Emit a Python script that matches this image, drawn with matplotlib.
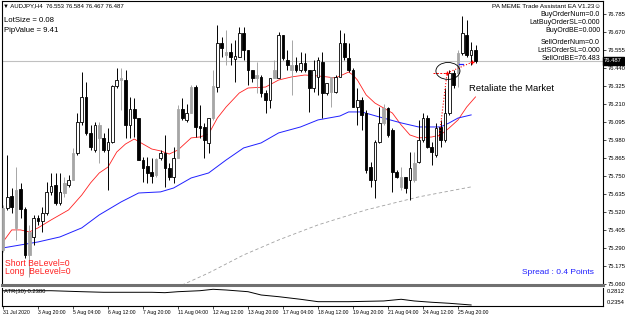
import matplotlib
matplotlib.use("Agg")
import matplotlib.pyplot as plt
import matplotlib.transforms as mtransforms
from matplotlib.patches import Rectangle, Ellipse

plt.rcParams['font.family'] = ['Liberation Sans', 'DejaVu Sans']

# ---- AUDJPY H4 candles, bar 0 = 31 Jul 2020 12:00 ----
opens = [75.277, 75.545, 75.622, 75.417, 75.667, 75.539, 75.245, 75.360, 75.481, 75.462,
         75.513, 75.647, 75.692, 75.577, 75.641, 75.692, 75.724, 75.896, 76.095, 76.254,
         76.024, 75.916, 75.992, 75.992, 75.916, 75.967, 76.324, 76.363, 76.363, 76.076,
         76.178, 76.120, 75.852, 75.814, 75.775, 75.756, 75.865, 75.896, 75.801, 75.743,
         75.865, 76.178, 76.108, 76.152, 76.318, 76.069, 76.063, 75.961, 76.120, 76.318,
         76.600, 76.523, 76.542, 76.497, 76.510, 76.663, 76.555, 76.427, 76.376, 76.382,
         76.280, 76.235, 76.376, 76.376, 76.651, 76.491, 76.427, 76.459, 76.427, 76.472,
         76.427, 76.312, 76.382, 76.478, 76.280, 76.286, 76.286, 76.382, 76.600, 76.504,
         76.427, 76.191, 76.235, 76.152, 75.807, 75.724, 75.967, 76.088, 76.184, 76.044,
         75.775, 75.679, 75.743, 75.724, 75.724, 75.839, 75.980, 76.120, 75.935, 75.884,
         76.063, 75.980, 76.152, 76.408, 76.408, 76.535, 76.651, 76.523, 76.555]
highs = [75.565, 75.884, 75.673, 75.807, 75.705, 75.552, 75.437, 75.501, 75.501, 75.552,
         75.711, 75.769, 75.769, 75.769, 75.743, 75.756, 75.928, 76.152, 76.414, 76.350,
         76.076, 76.095, 76.095, 76.024, 76.056, 76.331, 76.440, 76.440, 76.427, 76.254,
         76.248, 76.120, 75.871, 75.871, 75.865, 75.865, 75.916, 76.012, 75.833, 75.935,
         76.204, 76.248, 76.210, 76.331, 76.331, 76.204, 76.088, 76.120, 76.427, 76.715,
         76.638, 76.683, 76.600, 76.619, 76.702, 76.702, 76.555, 76.427, 76.478, 76.395,
         76.299, 76.376, 76.491, 76.670, 76.651, 76.555, 76.619, 76.510, 76.542, 76.535,
         76.427, 76.491, 76.510, 76.542, 76.344, 76.382, 76.395, 76.683, 76.663, 76.600,
         76.440, 76.312, 76.254, 76.172, 75.839, 75.980, 76.191, 76.210, 76.191, 76.056,
         75.788, 75.807, 75.743, 75.903, 75.903, 76.108, 76.152, 76.140, 75.967, 76.088,
         76.108, 76.312, 76.427, 76.427, 76.555, 76.772, 76.747, 76.606, 76.587]
lows = [75.264, 75.533, 75.513, 75.341, 75.481, 75.226, 75.104, 75.309, 75.437, 75.392,
        75.501, 75.628, 75.565, 75.565, 75.616, 75.679, 75.724, 75.884, 76.076, 76.012,
        75.916, 75.903, 75.833, 75.903, 75.660, 75.961, 76.312, 76.172, 75.992, 75.992,
        75.999, 75.852, 75.711, 75.705, 75.705, 75.743, 75.852, 75.679, 75.724, 75.705,
        75.865, 76.108, 76.095, 76.152, 75.999, 75.992, 75.865, 75.896, 76.108, 76.286,
        76.510, 76.459, 76.459, 76.350, 76.510, 76.491, 76.331, 76.350, 76.280, 76.254,
        76.152, 76.184, 76.376, 76.376, 76.491, 76.427, 76.267, 76.414, 76.414, 76.414,
        76.159, 76.286, 76.267, 76.120, 76.267, 76.191, 76.280, 76.382, 76.491, 76.414,
        76.191, 76.076, 76.044, 75.769, 75.679, 75.609, 75.961, 76.076, 75.999, 75.647,
        75.737, 75.660, 75.641, 75.597, 75.711, 75.833, 75.967, 75.928, 75.820, 75.871,
        75.935, 75.967, 76.140, 76.312, 76.318, 76.523, 76.510, 76.459, 76.472]
closes = [75.545, 75.616, 75.552, 75.660, 75.539, 75.245, 75.392, 75.481, 75.462, 75.513,
          75.647, 75.685, 75.577, 75.647, 75.705, 75.724, 75.896, 76.095, 76.254, 76.024,
          75.935, 76.076, 76.076, 75.916, 75.967, 76.324, 76.363, 76.376, 76.076, 76.178,
          76.120, 75.852, 75.801, 75.769, 75.750, 75.858, 75.896, 75.801, 75.743, 75.865,
          76.178, 76.120, 76.152, 76.318, 76.063, 76.056, 75.980, 76.120, 76.324, 76.600,
          76.568, 76.542, 76.510, 76.516, 76.663, 76.555, 76.427, 76.376, 76.395, 76.280,
          76.235, 76.376, 76.427, 76.651, 76.504, 76.459, 76.459, 76.427, 76.472, 76.427,
          76.312, 76.427, 76.491, 76.280, 76.344, 76.382, 76.382, 76.600, 76.510, 76.427,
          76.191, 76.235, 76.140, 75.788, 75.724, 75.967, 76.088, 76.184, 76.012, 75.775,
          75.743, 75.743, 75.673, 75.801, 75.833, 75.980, 76.120, 75.935, 75.903, 76.056,
          75.980, 76.152, 76.408, 76.331, 76.535, 76.663, 76.523, 76.555, 76.487]
grey_bars = [0, 3, 6, 14, 16, 22, 27, 35, 40, 43, 48, 51, 58, 62, 66, 75, 87, 91, 94, 104]

# moving averages (bar index, price)
red_ma_bars = [0, 2, 4, 6, 8, 11, 13, 15, 18, 20, 22, 24, 26, 28, 30, 32, 34, 36, 38, 40,
               43, 45, 47, 49, 51, 54, 56, 60, 63, 66, 69, 72, 74, 76, 79, 80, 81, 83, 85,
               87, 89, 91, 93, 95, 98, 100, 102, 104, 106, 108]
red_ma = [75.328, 75.405, 75.405, 75.392, 75.418, 75.469, 75.501, 75.533, 75.628, 75.705,
          75.769, 75.807, 75.903, 75.954, 75.986, 75.954, 75.922, 75.910, 75.890, 75.916,
          75.993, 75.999, 76.018, 76.120, 76.191, 76.280, 76.312, 76.318, 76.363, 76.383,
          76.395, 76.389, 76.383, 76.376, 76.414, 76.395, 76.363, 76.268, 76.216,
          76.184, 76.152, 76.076, 76.012, 75.993, 75.999, 76.012, 76.057, 76.108, 76.191, 76.255]
blue_ma_bars = [0, 4, 8, 13, 18, 22, 27, 31, 36, 39, 43, 47, 51, 55, 59, 63, 68, 72, 77,
                79, 82, 86, 91, 95, 100, 102, 104, 107]
blue_ma = [75.290, 75.309, 75.328, 75.360, 75.418, 75.501, 75.584, 75.641, 75.648, 75.673,
           75.737, 75.769, 75.852, 75.929, 75.961, 76.025, 76.063, 76.108, 76.133,
           76.159, 76.159, 76.127, 76.089, 76.063, 76.063, 76.089, 76.120, 76.140]
grey_ma_bars = [36, 47, 55, 63, 72, 83, 95, 107]
grey_ma = [74.990, 75.130, 75.245, 75.341, 75.437, 75.533, 75.616, 75.680]

atr_bars = [0, 11, 18, 23, 34, 37, 40, 45, 48, 51, 56, 59, 63, 68, 72, 79, 87, 91, 94, 98, 102, 107]
atr = [0.2743, 0.2743, 0.2718, 0.2703, 0.2703, 0.2693, 0.2718, 0.2743, 0.2779, 0.2761,
       0.2718, 0.2634, 0.2591, 0.2525, 0.2464, 0.2464, 0.2482, 0.2525, 0.2482, 0.2449,
       0.2423, 0.2380]

price_ticks = [76.785, 76.670, 76.555, 76.440, 76.325, 76.210, 76.095, 75.980, 75.865,
               75.750, 75.635, 75.520, 75.405, 75.290, 75.175, 75.060]
date_ticks = [0, 8, 16, 24, 32, 40, 48, 56, 64, 72, 80, 88, 96, 104]
date_labels = ["31 Jul 2020", "3 Aug 20:00", "5 Aug 04:00", "6 Aug 12:00", "7 Aug 20:00",
               "11 Aug 04:00", "12 Aug 12:00", "13 Aug 20:00", "17 Aug 04:00", "18 Aug 12:00",
               "19 Aug 20:00", "21 Aug 04:00", "24 Aug 12:00", "25 Aug 20:00"]
bid = 76.487

W, H = 625, 318
fig = plt.figure(figsize=(W / 100, H / 100), dpi=100)
ax = fig.add_axes([2 / W, 1 - 285 / H, 601 / W, 284 / H])
ax2 = fig.add_axes([2 / W, 1 - 306 / H, 601 / W, 18 / H])

xl = (-0.23, 137.14)
ax.set_xlim(*xl)
ax.set_ylim(75.053, 76.868)

# candles
bw = 0.62
for i in range(len(opens)):
    o, h, l, c = opens[i], highs[i], lows[i], closes[i]
    if i in grey_bars:
        wc, fc, ec = '#a6a6a6', '#a6a6a6', '#a6a6a6'
    elif c >= o:
        wc, fc, ec = 'black', 'white', 'black'
    else:
        wc, fc, ec = 'black', 'black', 'black'
    ax.plot([i, i], [l, h], color=wc, lw=0.7, zorder=3, solid_capstyle='butt')
    lo, hi = min(o, c), max(o, c)
    ax.add_patch(Rectangle((i - bw / 2, lo), bw, max(hi - lo, 0.004), facecolor=fc,
                           edgecolor=ec, lw=0.6, zorder=4))

ax.plot(red_ma_bars, red_ma, color='#ff2020', lw=0.6, zorder=2)
ax.plot(blue_ma_bars, blue_ma, color='#2020ff', lw=0.7, zorder=2)
ax.plot(grey_ma_bars, grey_ma, color='#a0a0a0', lw=0.6, dashes=(4, 3), zorder=2)
ax.axhline(bid, color='#c0c0c0', lw=0.8, zorder=1)

# trade markers
ax.plot([99.7, 101.5], [76.00, 76.408], color='red', lw=0.8, ls=':', zorder=5)
ax.plot([98.3, 101.5], [76.408, 76.408], color='red', lw=0.7, dashes=(2, 1.5), zorder=5)
ax.plot([101.5, 107.3], [76.408, 76.478], color='red', lw=0.8, ls=':', zorder=5)
ax.plot([101.5], [76.408], marker='+', color='red', ms=3, mew=0.9, zorder=6)
ax.plot([107.3], [76.478], marker='+', color='red', ms=3, mew=0.9, zorder=6)
ax.plot([104.2, 105.1], [76.466, 76.466], color='#2020ff', lw=0.9, zorder=6)
ax.add_patch(Ellipse((101.7, 76.421), 5.5, 0.108, fill=False, edgecolor='black', lw=0.6, zorder=6))
ax.text(106.4, 76.306, "Retaliate the Market", fontsize=6.8, va='center', ha='left', zorder=7)

# right price axis
ax.yaxis.tick_right()
ax.set_yticks(price_ticks)
ax.set_yticklabels([f"{p:.3f}" for p in price_ticks])
ax.tick_params(axis='y', labelsize=4.2, length=2, width=0.5, pad=1.2)
ax.set_xticks([])
trans = mtransforms.blended_transform_factory(ax.transAxes, ax.transData)
ax.text(1.002, bid, f"{bid:.3f}", transform=trans, fontsize=4.2, color='white', va='center',
        ha='left', bbox=dict(boxstyle='square,pad=0.25', fc='black', ec='black'), zorder=8)

for s in ['left', 'right', 'top']:
    ax.spines[s].set_linewidth(0.8)
ax.spines['bottom'].set_color('#707070')
ax.spines['bottom'].set_linewidth(2.2)

# ATR panel
ax2.set_xlim(*xl)
ax2.set_ylim(0.2354, 0.2812)
ax2.plot(atr_bars, atr, color='black', lw=0.7)
ax2.spines['top'].set_visible(False)
for s in ['left', 'right', 'bottom']:
    ax2.spines[s].set_linewidth(0.8)
ax2.set_yticks([])
ax2.text(1.006, 0.83, "0.2812", transform=ax2.transAxes, fontsize=4.2, va='center', ha='left')
ax2.text(1.006, 0.17, "0.2354", transform=ax2.transAxes, fontsize=4.2, va='center', ha='left')
ax2.text(0.004, 0.8, "ATR(30) 0.2380", transform=ax2.transAxes, fontsize=4.2, va='center', ha='left')
ax2.set_xticks(date_ticks)
ax2.set_xticklabels(date_labels)
ax2.tick_params(axis='x', labelsize=3.7, length=2, width=0.5, pad=1)
for lbl in ax2.get_xticklabels():
    lbl.set_horizontalalignment('left')

# overlay texts
def ftext(x, y, s, **kw):
    fig.text(x / W, 1 - y / H, s, va='center', **kw)

ftext(3, 6, "\u25bc AUDJPY,H4  76.553 76.584 76.467 76.487", fontsize=4.3, ha='left')
ftext(4, 20, "LotSize = 0.08", fontsize=5.6, ha='left')
ftext(4, 30, "PipValue = 9.41", fontsize=5.6, ha='left')
ftext(601, 6, "PA MEME Trade Assistant EA V1.23\u263a", fontsize=4.6, ha='right')
right_lines = ["BuyOrderNum=0.0", "LatBuyOrderSL=0.000", "BuyOrdBE=0.000",
               "SellOrderNum=0.0", "LstSOrderSL=0.000", "SellOrdBE=76.483"]
for k, s in enumerate(right_lines):
    ftext(600, [14, 23, 31, 42, 51, 59][k], s, fontsize=5.0, ha='right')
ftext(5, 264, "Short BeLevel=0", fontsize=6.2, ha='left', color='#ff2020')
ftext(5, 272, "Long  BeLevel=0", fontsize=6.2, ha='left', color='#ff2020')
ftext(522, 273, "Spread : 0.4 Points", fontsize=6.0, ha='left', color='#2020ff')

fig.savefig("out.png", dpi=100)
